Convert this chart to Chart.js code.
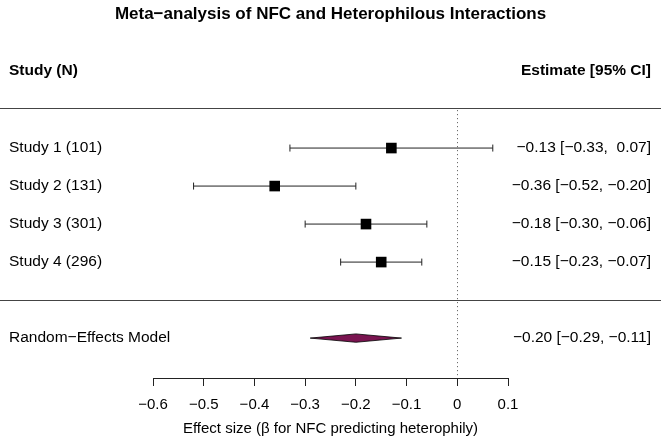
<!DOCTYPE html>
<html>
<head>
<meta charset="utf-8">
<script src="https://cdn.jsdelivr.net/npm/chart.js@4.4.1/dist/chart.umd.min.js"></script>
<style>
  html, body { margin: 0; padding: 0; background: #fff; }
  #wrap { width: 661px; height: 439px; }
</style>
</head>
<body>
<div id="wrap"><canvas id="forest"></canvas></div>
<script>
// study rows (top to bottom)
const studyLabels = ['Study 1 (101)', 'Study 2 (131)', 'Study 3 (301)', 'Study 4 (296)'];
const studyRows = [4, 3, 2, 1];
const estimates = [-0.13, -0.36, -0.18, -0.15];
const ciLower = [-0.33, -0.52, -0.30, -0.23];
const ciUpper = [0.07, -0.20, -0.06, -0.07];

// pooled random-effects model
const reLabel = 'Random\u2212Effects Model';
const reRow = -1;
const reEstimate = -0.20;
const reLower = -0.29;
const reUpper = -0.11;

const xTicks = [-0.6, -0.5, -0.4, -0.3, -0.2, -0.1, 0, 0.1];

const titleText = 'Meta\u2212analysis of NFC and Heterophilous Interactions';
const fontFamily = '"Liberation Sans", Arial, Helvetica, sans-serif';
const textColor = '#000';
const ruleColor = '#444';
const ciColor = '#222';
const diamondColor = '#7a1450';
const diamondHalf = 0.11; // half-height in row units
const headerRow = 6.03;
const topRule = 5.05;
const midRule = 0;

const fmt = (v) => (v < 0 ? '\u2212' : '') + Math.abs(v).toFixed(2);
const estText = (e, l, u) => `${fmt(e)} [${fmt(l)}, ${u < 0 ? '' : ' '}${fmt(u)}]`;
const tickText = (v) => (v === 0 ? '0' : (v < 0 ? '\u2212' : '') + Math.abs(v).toFixed(1));

const ciSets = studyRows.map((row, i) => ({
  type: 'scatter',
  showLine: true,
  data: [{ x: ciLower[i], y: row }, { x: ciUpper[i], y: row }],
  borderColor: ciColor,
  borderWidth: 1,
  pointStyle: 'line',
  rotation: 90,
  pointRadius: 3.5,
  pointBorderColor: ciColor,
  pointBorderWidth: 1,
  order: 2
}));

const squareSet = {
  type: 'scatter',
  data: studyRows.map((row, i) => ({ x: estimates[i], y: row })),
  pointStyle: 'rect',
  pointRadius: 7.5,
  backgroundColor: '#000',
  borderColor: '#000',
  borderWidth: 0,
  order: 1
};

const diamondSet = {
  type: 'line',
  data: [
    { x: reLower, y: reRow },
    { x: reEstimate, y: reRow + diamondHalf },
    { x: reUpper, y: reRow },
    { x: reEstimate, y: reRow - diamondHalf },
    { x: reLower, y: reRow }
  ],
  borderColor: '#000',
  borderWidth: 0.8,
  backgroundColor: diamondColor,
  fill: 'shape',
  pointRadius: 0,
  tension: 0,
  order: 1
};

const forestText = {
  id: 'forestText',
  beforeDatasetsDraw(chart) {
    const { ctx, scales: { x, y }, width } = chart;
    ctx.save();
    // horizontal rules
    ctx.strokeStyle = ruleColor;
    ctx.lineWidth = 1.2;
    [topRule, midRule].forEach(v => {
      const py = Math.round(y.getPixelForValue(v)) + 0.5;
      ctx.beginPath();
      ctx.moveTo(0, py);
      ctx.lineTo(width, py);
      ctx.stroke();
    });
    // dotted reference line at zero
    const px = Math.round(x.getPixelForValue(0)) + 0.5;
    ctx.strokeStyle = '#555';
    ctx.lineWidth = 1;
    ctx.setLineDash([1, 3]);
    ctx.beginPath();
    ctx.moveTo(px, y.getPixelForValue(topRule) + 2);
    ctx.lineTo(px, y.bottom);
    ctx.stroke();
    ctx.restore();
  },
  afterDraw(chart) {
    const { ctx, scales: { y }, width } = chart;
    const left = 9, right = 651;
    ctx.save();
    ctx.fillStyle = textColor;
    ctx.textBaseline = 'middle';
    ctx.textAlign = 'center';
    ctx.font = `bold 17px ${fontFamily}`;
    ctx.fillText(titleText, width / 2, 14);

    ctx.font = `bold 15.5px ${fontFamily}`;
    ctx.textAlign = 'left';
    ctx.fillText('Study (N)', left, y.getPixelForValue(headerRow));
    ctx.textAlign = 'right';
    ctx.fillText('Estimate [95% CI]', right, y.getPixelForValue(headerRow));

    ctx.font = `15.5px ${fontFamily}`;
    studyRows.forEach((row, i) => {
      const py = y.getPixelForValue(row);
      ctx.textAlign = 'left';
      ctx.fillText(studyLabels[i], left, py);
      ctx.textAlign = 'right';
      ctx.fillText(estText(estimates[i], ciLower[i], ciUpper[i]), right, py);
    });
    const ry = y.getPixelForValue(reRow);
    ctx.textAlign = 'left';
    ctx.fillText(reLabel, left, ry);
    ctx.textAlign = 'right';
    ctx.fillText(estText(reEstimate, reLower, reUpper), right, ry);
    ctx.restore();
  }
};

new Chart(document.getElementById('forest'), {
  type: 'scatter',
  data: { datasets: [...ciSets, squareSet, diamondSet] },
  options: {
    responsive: true,
    maintainAspectRatio: false,
    animation: false,
    layout: { padding: { left: 153, right: 153, top: 50, bottom: 0 } },
    plugins: {
      legend: { display: false },
      tooltip: { enabled: false },
      title: { display: false }
    },
    scales: {
      x: {
        type: 'linear',
        min: -0.6,
        max: 0.1,
        afterBuildTicks: (axis) => { axis.ticks = xTicks.map(v => ({ value: v })); },
        border: { display: true, color: '#222', width: 1 },
        grid: { drawOnChartArea: false, drawTicks: true, tickLength: 8, color: '#222' },
        ticks: {
          color: '#000',
          padding: 10,
          maxRotation: 0,
          autoSkip: false,
          font: { family: fontFamily, size: 15 },
          callback: (v) => tickText(v)
        },
        title: {
          display: true,
          text: 'Effect size (\u03B2 for NFC predicting heterophily)',
          color: '#000',
          font: { family: fontFamily, size: 15 },
          padding: { top: -4, bottom: 1 }
        }
      },
      y: {
        type: 'linear',
        display: false,
        min: -2.05,
        max: 6.58
      }
    }
  },
  plugins: [forestText]
});
</script>
</body>
</html>
